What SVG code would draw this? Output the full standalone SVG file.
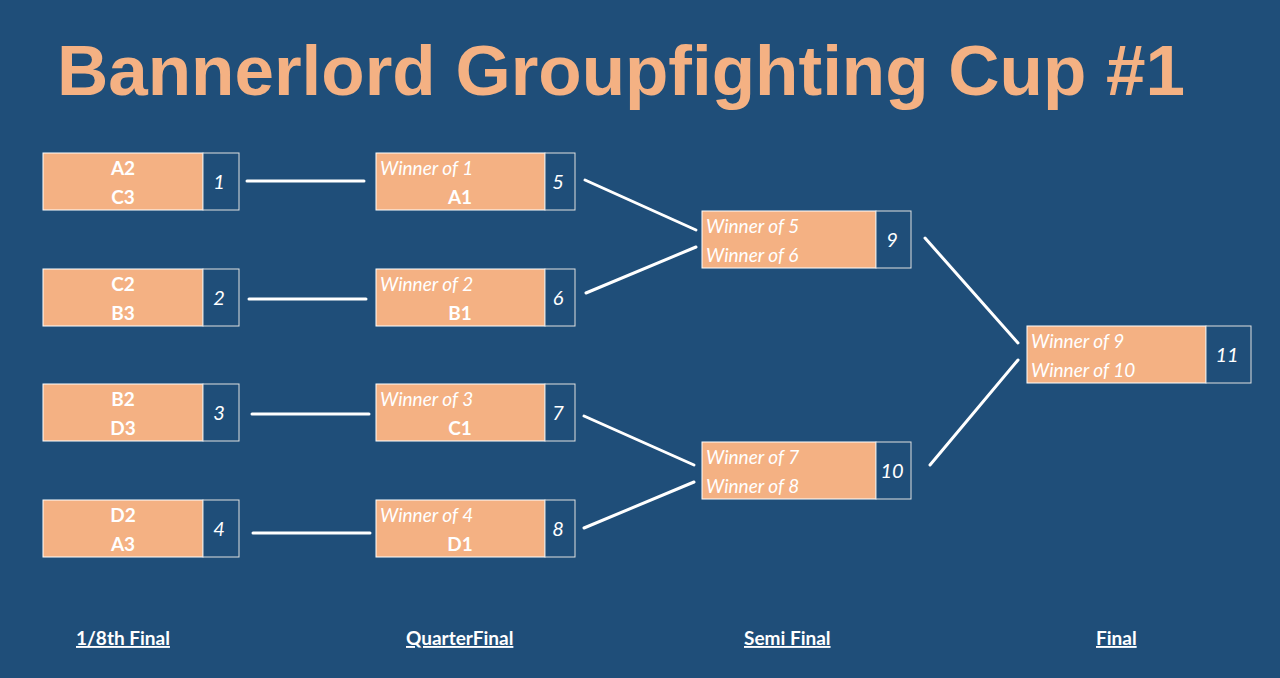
<svg xmlns="http://www.w3.org/2000/svg" width="1280" height="678" viewBox="0 0 1280 678">
<style>
.bg{fill:#1F4E79}
.team{fill:#F4B183;stroke:#FFFFFF;stroke-width:1}
.num{fill:#1F4E79;stroke:#E0E0E0;stroke-width:1}
.t{font-family:Lato,"Open Sans",sans-serif;font-size:19px;fill:#FFFFFF}
.b{font-weight:bold;text-anchor:middle}
.i{font-style:italic}
.n{font-style:italic;text-anchor:middle;font-size:20px}
.lbl{font-family:Lato,"Open Sans",sans-serif;font-size:19px;font-weight:bold;fill:#FFFFFF;text-decoration:underline}
.c line{stroke:#FFFFFF;stroke-width:3;stroke-linecap:round}
.title{font-family:"Liberation Sans",Arial,sans-serif;font-weight:bold;font-size:71px;fill:#F4B183;text-anchor:middle}
</style>
<rect class="bg" x="0" y="0" width="1280" height="678"/>
<text class="title" x="621" y="95">Bannerlord Groupfighting Cup #1</text>

<g id="m1"><rect class="team" x="43" y="153" width="160" height="57"/><rect class="num" x="203" y="153" width="36" height="57"/>
<text class="t b" x="123" y="175">A2</text><text class="t b" x="123" y="204">C3</text><text class="t n" x="219" y="189">1</text></g>
<g id="m2"><rect class="team" x="43" y="269" width="160" height="57"/><rect class="num" x="203" y="269" width="36" height="57"/>
<text class="t b" x="123" y="291">C2</text><text class="t b" x="123" y="320">B3</text><text class="t n" x="219" y="305">2</text></g>
<g id="m3"><rect class="team" x="43" y="384" width="160" height="57"/><rect class="num" x="203" y="384" width="36" height="57"/>
<text class="t b" x="123" y="406">B2</text><text class="t b" x="123" y="435">D3</text><text class="t n" x="219" y="420">3</text></g>
<g id="m4"><rect class="team" x="43" y="500" width="160" height="57"/><rect class="num" x="203" y="500" width="36" height="57"/>
<text class="t b" x="123" y="522">D2</text><text class="t b" x="123" y="551">A3</text><text class="t n" x="219" y="536">4</text></g>

<g id="m5"><rect class="team" x="376" y="153" width="169" height="57"/><rect class="num" x="545" y="153" width="30" height="57"/>
<text class="t i" x="380" y="175">Winner of 1</text><text class="t b" x="460" y="204">A1</text><text class="t n" x="558" y="189">5</text></g>
<g id="m6"><rect class="team" x="376" y="269" width="169" height="57"/><rect class="num" x="545" y="269" width="30" height="57"/>
<text class="t i" x="380" y="291">Winner of 2</text><text class="t b" x="460" y="320">B1</text><text class="t n" x="558" y="305">6</text></g>
<g id="m7"><rect class="team" x="376" y="384" width="169" height="57"/><rect class="num" x="545" y="384" width="30" height="57"/>
<text class="t i" x="380" y="406">Winner of 3</text><text class="t b" x="460" y="435">C1</text><text class="t n" x="558" y="420">7</text></g>
<g id="m8"><rect class="team" x="376" y="500" width="169" height="57"/><rect class="num" x="545" y="500" width="30" height="57"/>
<text class="t i" x="380" y="522">Winner of 4</text><text class="t b" x="460" y="551">D1</text><text class="t n" x="558" y="536">8</text></g>

<g id="m9"><rect class="team" x="702" y="211" width="174" height="57"/><rect class="num" x="876" y="211" width="35" height="57"/>
<text class="t i" x="706" y="233">Winner of 5</text><text class="t i" x="706" y="262">Winner of 6</text><text class="t n" x="892" y="247">9</text></g>
<g id="m10"><rect class="team" x="702" y="442" width="174" height="57"/><rect class="num" x="876" y="442" width="35" height="57"/>
<text class="t i" x="706" y="464">Winner of 7</text><text class="t i" x="706" y="493">Winner of 8</text><text class="t n" x="892" y="478">10</text></g>

<g id="m11"><rect class="team" x="1027" y="326" width="179" height="57"/><rect class="num" x="1206" y="326" width="45" height="57"/>
<text class="t i" x="1031" y="348">Winner of 9</text><text class="t i" x="1031" y="377">Winner of 10</text><text class="t n" x="1227" y="362">11</text></g>

<g id="connectors" class="c">
<line x1="247" y1="181" x2="364" y2="181"/>
<line x1="249" y1="299" x2="366" y2="299"/>
<line x1="252" y1="414" x2="369" y2="414"/>
<line x1="253" y1="533" x2="370" y2="533"/>
<line x1="585" y1="180" x2="696" y2="230"/>
<line x1="586" y1="293" x2="696" y2="247"/>
<line x1="584" y1="416" x2="694" y2="465"/>
<line x1="584" y1="528" x2="694" y2="482"/>
<line x1="925" y1="238" x2="1018" y2="343"/>
<line x1="930" y1="465" x2="1018" y2="360"/>
</g>

<g id="labels">
<text class="lbl" x="76" y="645">1/8th Final</text>
<text class="lbl" x="406" y="645">QuarterFinal</text>
<text class="lbl" x="744" y="645">Semi Final</text>
<text class="lbl" x="1096" y="645">Final</text>
</g>
</svg>
